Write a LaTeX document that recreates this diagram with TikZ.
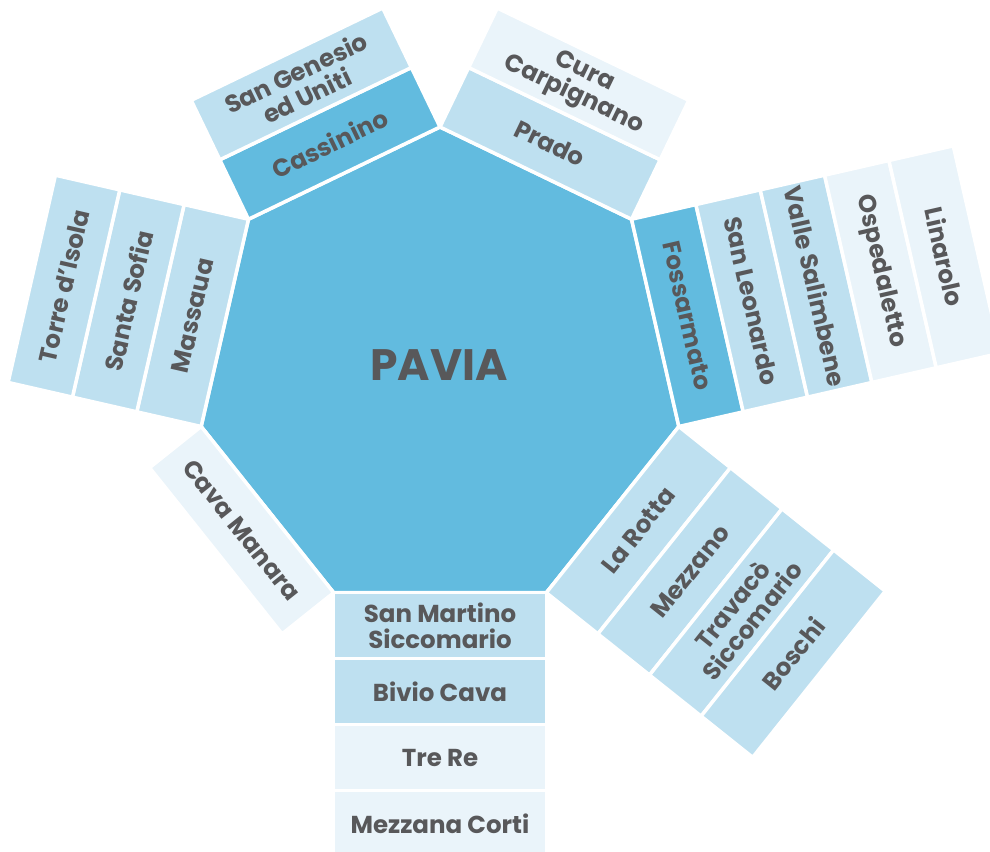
\documentclass[tikz,border=0pt]{standalone}
\usepackage{fontspec}
\setmainfont{Poppins}
\usetikzlibrary{calc}
\definecolor{hept}{HTML}{62BBDF}
\definecolor{lightb}{HTML}{BEE0F0}
\definecolor{paleb}{HTML}{EAF4FA}
\definecolor{txt}{HTML}{58585A}
\begin{document}
\begin{tikzpicture}[x=1pt,y=1pt,
  strip/.style={draw=white, line width=3.5pt, line join=miter},
  lbl/.style={text=txt, font=\bfseries\fontsize{24.5}{25.5}\selectfont, align=center, inner sep=0pt},
  title/.style={text=txt, font=\bfseries\fontsize{44}{48}\selectfont, inner sep=0pt, anchor=base}]
\useasboundingbox (0,0) rectangle (990,-851);
\clip (0,0) rectangle (990,-851);
\pgfmathsetmacro{\RR}{245}
\pgfmathsetmacro{\dd}{66}
\coordinate (C) at (440,-372);
\foreach \k in {0,...,6} { \coordinate (V\k) at ($(C)+({90+\k*360/7}:\RR)$); }
\coordinate (V7) at (V0);
\filldraw[strip, fill=hept] (V0) -- (V1) -- (V2) -- (V3) -- (V4) -- (V5) -- (V6) -- cycle;
\node[title] (pavia) at (439,-380) {PAVIA};
\foreach \sd/\ix/\col/\off/\txt/\nm in {
  0/1/hept/90/Cassinino/cassinino,
  0/2/lightb/90/{San Genesio\\ed Uniti}/sangenesio,
  1/1/lightb/90/Massaua/massaua,
  1/2/lightb/90/Santa Sofia/santasofia,
  1/3/lightb/90/Torre d’Isola/torre,
  2/1/paleb/270/Cava Manara/cavamanara,
  3/1/lightb/270/{San Martino\\Siccomario}/sanmartino,
  3/2/lightb/270/Bivio Cava/bivio,
  3/3/paleb/270/Tre Re/trere,
  3/4/paleb/270/Mezzana Corti/mezzana,
  4/1/lightb/270/La Rotta/larotta,
  4/2/lightb/270/Mezzano/mezzano,
  4/3/lightb/270/{Travacò\\Siccomario}/travaco,
  4/4/lightb/270/Boschi/boschi,
  5/1/hept/90/Fossarmato/fossarmato,
  5/2/lightb/90/San Leonardo/sanleonardo,
  5/3/lightb/90/Valle Salimbene/valle,
  5/4/paleb/90/Ospedaletto/ospedaletto,
  5/5/paleb/90/Linarolo/linarolo,
  6/1/lightb/90/Prado/prado,
  6/2/paleb/90/{Cura\\Carpignano}/cura}
{
  \pgfmathsetmacro\nn{115.7143+\sd*51.4286}
  \pgfmathtruncatemacro\kk{\sd+1}
  \pgfmathsetmacro\ra{(\ix-1)*\dd}
  \pgfmathsetmacro\rb{\ix*\dd}
  \pgfmathsetmacro\rc{\RR*cos(180/7)+(\ix-0.5)*\dd}
  \filldraw[strip, fill=\col] ($(V\sd)+(\nn:\ra)$) -- ($(V\kk)+(\nn:\ra)$) -- ($(V\kk)+(\nn:\rb)$) -- ($(V\sd)+(\nn:\rb)$) -- cycle;
  \node[lbl, rotate=\nn-\off] (\nm) at ($(C)+(\nn:\rc)$) {\txt};
}
\end{tikzpicture}
\end{document}
